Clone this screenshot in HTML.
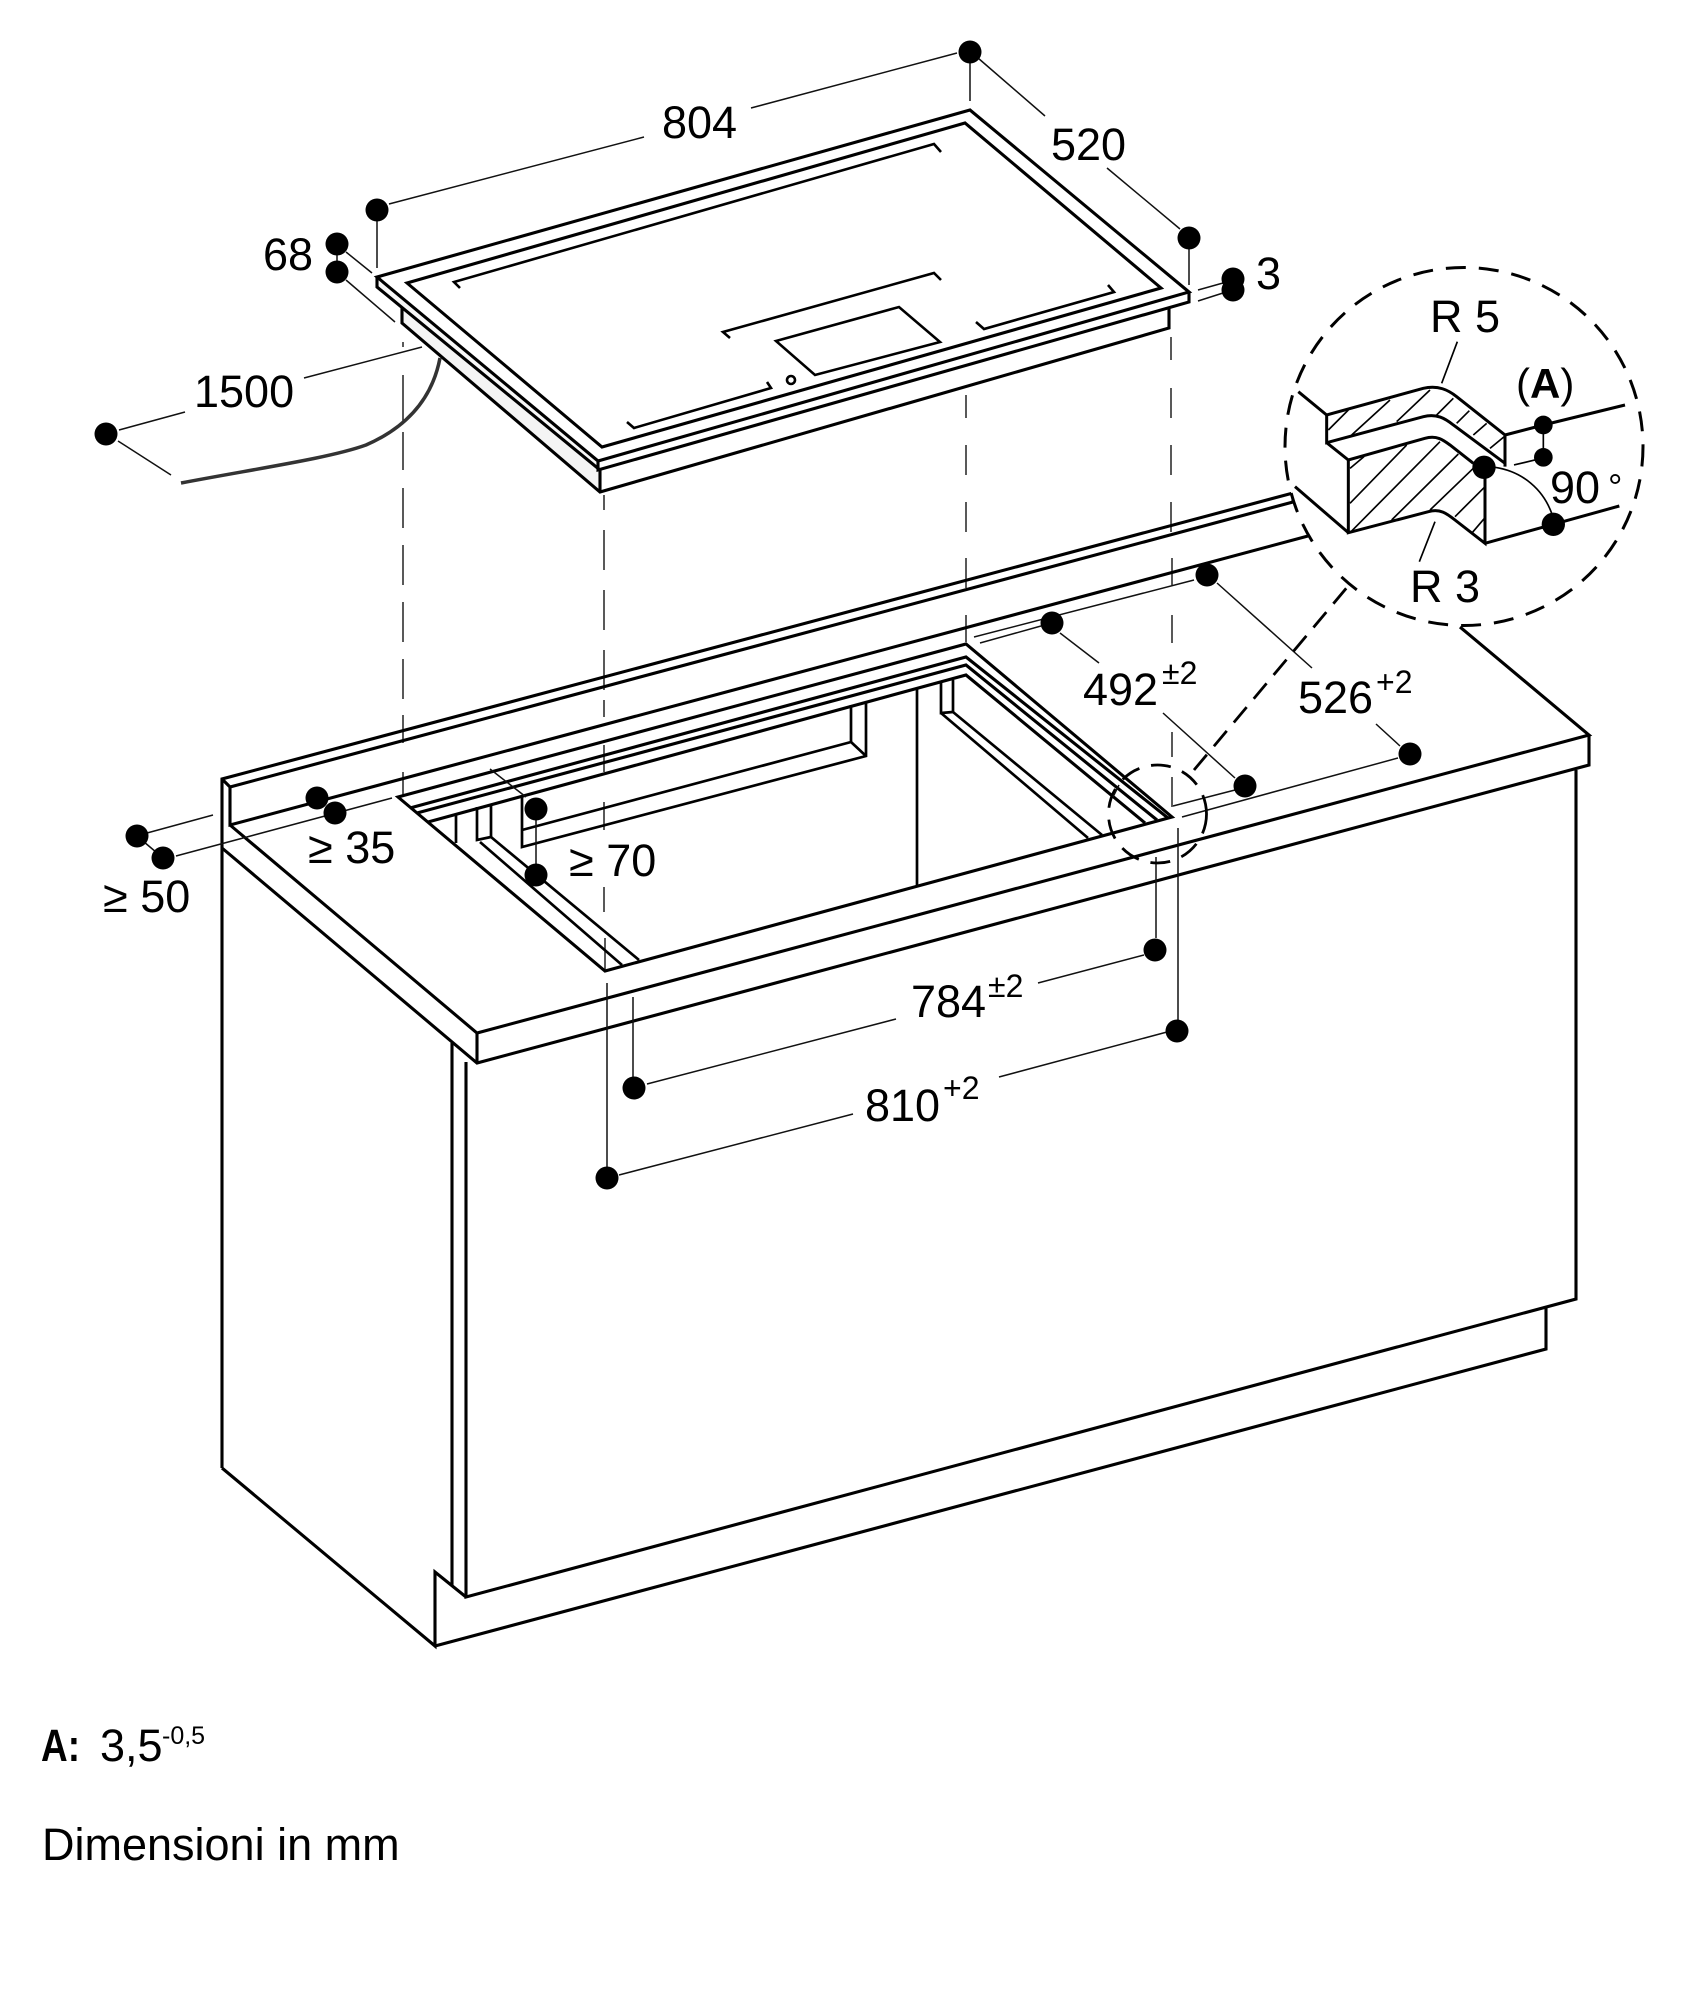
<!DOCTYPE html>
<html>
<head>
<meta charset="utf-8">
<title>Dimensioni</title>
<style>
html,body{margin:0;padding:0;background:#fff;width:1703px;height:2000px;overflow:hidden}
svg{display:block}
text{font-family:"Liberation Sans",sans-serif;font-size:45px;fill:#000}
.s{font-size:32px}
.m{fill:none;stroke:#000;stroke-width:3.1;stroke-linejoin:miter;stroke-linecap:butt}
.n{fill:none;stroke:#000;stroke-width:2.6}
.t{fill:none;stroke:#111;stroke-width:1.5}
.d{fill:none;stroke:#222;stroke-width:1.5;stroke-dasharray:none}
</style>
</head>
<body>
<svg width="1703" height="2000" viewBox="0 0 1703 2000" xmlns="http://www.w3.org/2000/svg">
<rect width="1703" height="2000" fill="#fff"/>

<!-- projection dashes -->
<g class="d">
<path d="M403 342V347M403 375V423M403 432V470M403 488V528M403 545V585M403 602V642M403 659V699M403 715V743M403 772V797"/>
<path d="M604 495V510M604 530V570M604 590V630M604 650V690M604 700V717M604 745V772M604 802V830M604 887V912M605 938V970"/>
<path d="M966 395V418M966 445V475M966 502V532M966 558V588M966 615V642"/>
<path d="M1171 337V360M1171 388V418M1171 445V475M1171 502V532M1172 558V585M1172 615V643M1172 732V757M1172 777V807"/>
</g>

<!-- cooktop -->
<polygon points="402,308 600,470 600,492 402,323" fill="#f4f4f4"/>
<polygon points="377,277 598,461 600,470 377,287" fill="#f7f7f7"/>
<g class="m">
<path d="M377 277L970 110L1189 292L598 461Z"/>
<path d="M377 277V287L600 470V492"/>
<path d="M598 461V470L1189 302V292"/>
<path d="M402 308V323L600 492L1169 328V308"/>
<path d="M407 283L965 123L1161 288L602 447Z"/>
</g>
<g class="n">
<path d="M460 288L454 282L934 144L941 152"/>
<path d="M730 338L723 332L934 273L941 280"/>
<path d="M776 341L899 307L940 342L815 375Z"/>
<path d="M627 422L634 428L771 388L767 382"/>
<path d="M976 322L984 329L1114 292L1108 285"/>
<ellipse cx="791" cy="380" rx="4" ry="4"/>
</g>

<!-- cable -->
<path d="M181 483C260 468 330 458 366 445C405 428 432 400 440 358" fill="none" stroke="#333" stroke-width="3.5"/>

<!-- worktop -->
<g class="m">
<path d="M222 1468V779L1293 493V502"/>
<path d="M222 779L230 787L1293 502"/>
<path d="M230 787V825L1308 536"/>
<path d="M230 825L477 1033L1589 735L1460 627"/>
<path d="M222 848L477 1063L1589 765V735"/>
<path d="M477 1033V1063"/>
<path d="M1576 770V1299L466 1597V1062"/>
<path d="M452 1043V1585"/>
<path d="M222 1468L435 1646V1572L466 1597"/>
<path d="M435 1646L1546 1349V1308"/>
<!-- cutout -->
<path d="M398 797L966 644L1172 817L605 971Z"/>
<path d="M410 808L966 657L1168 818"/>
<path d="M417 813L966 665L1157 820"/>
<path d="M428 822L966 675L1145 823"/>
</g>
<g class="m" style="stroke-width:2.7">
<path d="M456 815V843"/>
<path d="M477 807V840L491 837V805"/>
<path d="M480 842L622 965"/>
<path d="M491 837L639 960"/>
<path d="M522 797V847L866 756V703"/>
<path d="M522 830L851 742V705"/>
<path d="M851 742L866 756"/>
<path d="M917 688V885"/>
<path d="M941 682V713L953 712V680"/>
<path d="M941 713L1088 838"/>
<path d="M953 712L1102 835"/>
</g>

<!-- dimension lines -->
<g class="t">
<path d="M377 218V268M389 204L644 137M751 108L957 53M970 60V101"/>
<path d="M978 58L1045 116M1107 168L1180 229M1189 246V285"/>
<path d="M346 252L372 273M346 280L395 322M337 250V268"/>
<path d="M1198 290L1223 283M1198 301L1223 293"/>
<path d="M119 430L185 412M304 378L422 347M118 441L171 475"/>
<path d="M147 833L213 815M176 856L392 798M137 836L163 858"/>
<path d="M490 769L526 797M536 809V875"/>
<path d="M974 637L1194 580M980 643L1041 626"/>
<path d="M1060 633L1099 663"/>
<path d="M1217 583L1312 668M1376 724L1400 746"/>
<path d="M1163 713L1235 778M1173 806L1235 790"/>
<path d="M1182 817L1398 758"/>
<path d="M1156 857V938M633 997V1077"/>
<path d="M647 1084L896 1019M1038 983L1144 955"/>
<path d="M1178 828V1022M607 983V1168"/>
<path d="M619 1175L853 1114M999 1077L1167 1032"/>
</g>

<!-- small dashed circle & connector -->
<circle cx="1157.5" cy="814" r="49" fill="none" stroke="#000" stroke-width="2.8" stroke-dasharray="20 12"/>
<path d="M1194 770L1349 585" fill="none" stroke="#000" stroke-width="2.8" stroke-dasharray="20 11"/>
<path d="M1113 797L1119 785" class="t"/>

<!-- big detail circle -->
<circle cx="1464" cy="446.5" r="179" fill="#fff" stroke="#000" stroke-width="3" stroke-dasharray="20 13"/>
<g transform="translate(1260 250) scale(.33333)">
<g fill="none" stroke="#000" stroke-width="5">
<path d="M205 540L265 480M275 555L390 450M410 515L510 420M530 495L580 445M590 520L628 482M640 555L680 520M690 595L735 558"/>
<path d="M270 655L312 620M270 760L440 585M270 848L540 575M395 810L595 612M510 780L640 655M585 800L675 710M635 850L675 803"/>
<path d="M705 652C790 665 850 720 875 790"/>
<path d="M592 275L545 400M525 815L478 935M762 645L825 630"/>
<path d="M850 525V622"/>
</g>
<g fill="none" stroke="#000" stroke-width="9">
<path d="M115 425L200 495L490 415C535 405 565 420 590 440L735 555V650"/>
<path d="M200 495V578L490 500C530 490 555 505 580 525L735 640"/>
<path d="M200 578L265 630L495 565C530 555 550 570 570 585L640 640"/>
<path d="M265 630V848L505 785C540 775 560 790 585 810L675 880V652"/>
<path d="M105 710L265 848"/>
<path d="M675 880L880 823L1078 768"/>
<path d="M735 555L850 525L1095 465"/>
</g>
<circle cx="850" cy="525" r="28"/>
<circle cx="850" cy="622" r="28"/>
<circle cx="672" cy="652" r="35"/>
<circle cx="880" cy="823" r="35"/>
</g>

<!-- dots -->
<g fill="#000">
<circle cx="377" cy="210" r="11.5"/>
<circle cx="970" cy="52" r="11.5"/>
<circle cx="1189" cy="238" r="11.5"/>
<circle cx="337" cy="244" r="11.5"/>
<circle cx="337" cy="272" r="11.5"/>
<circle cx="1233" cy="279" r="11.5"/>
<circle cx="1233" cy="290" r="11.5"/>
<circle cx="106" cy="434" r="11.5"/>
<circle cx="137" cy="836" r="11.5"/>
<circle cx="163" cy="858" r="11.5"/>
<circle cx="317" cy="798" r="11.5"/>
<circle cx="335" cy="813" r="11.5"/>
<circle cx="536" cy="809" r="11.5"/>
<circle cx="536" cy="875" r="11.5"/>
<circle cx="1052" cy="623" r="11.5"/>
<circle cx="1207" cy="575" r="11.5"/>
<circle cx="1245" cy="786" r="11.5"/>
<circle cx="1410" cy="754" r="11.5"/>
<circle cx="1155" cy="950" r="11.5"/>
<circle cx="634" cy="1088" r="11.5"/>
<circle cx="1177" cy="1031" r="11.5"/>
<circle cx="607" cy="1178" r="11.5"/>
</g>

<!-- labels -->
<text x="662" y="138">804</text>
<text x="1051" y="160">520</text>
<text x="263" y="270">68</text>
<text x="1256" y="289">3</text>
<text x="194" y="407">1500</text>
<text x="103" y="912">≥ 50</text>
<text x="308" y="863">≥ 35</text>
<text x="569" y="876">≥ 70</text>
<text x="1083" y="705">492</text><text class="s" x="1162" y="684">±2</text>
<text x="1298" y="713">526</text><text class="s" x="1376" y="693">+2</text>
<text x="911" y="1017">784</text><text class="s" x="988" y="997">±2</text>
<text x="865" y="1121">810</text><text class="s" x="943" y="1099">+2</text>
<text x="1430" y="332">R 5</text>
<text x="1410" y="602">R 3</text>
<text x="1516" y="398" style="font-size:42px">(<tspan font-weight="bold">A</tspan>)</text>
<text x="1550" y="503">90</text>
<text x="1608" y="499" style="font-size:36px">°</text>
<text x="41" y="1761" font-weight="bold" textLength="39" lengthAdjust="spacingAndGlyphs">A:</text>
<text x="100" y="1761">3,5</text>
<text x="162" y="1744" style="font-size:25px">-0,5</text>
<text x="42" y="1860">Dimensioni in mm</text>
</svg>
</body>
</html>
